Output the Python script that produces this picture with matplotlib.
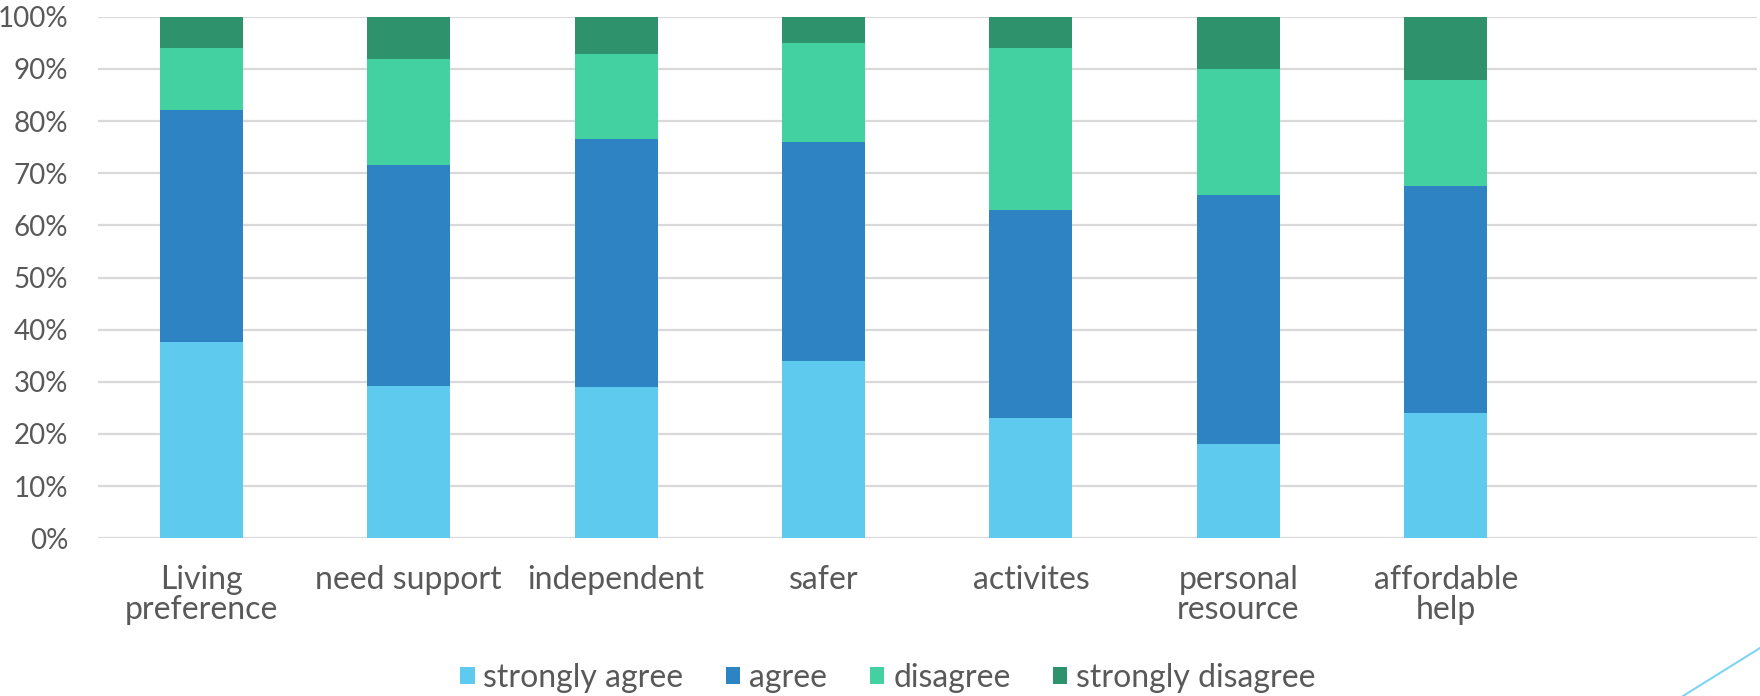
import matplotlib
matplotlib.use("Agg")
import matplotlib.pyplot as plt
from matplotlib.lines import Line2D
from matplotlib.ticker import FuncFormatter
import numpy as np

categories = ["Living\npreference", "need support", "independent", "safer",
              "activites", "personal\nresource", "affordable\nhelp", ""]
strongly_agree = [37.7, 29.2, 29.1, 33.9, 23.0, 18.0, 24.1, 0]
agree = [44.4, 42.4, 47.5, 42.0, 39.9, 47.8, 43.5, 0]
disagree = [11.9, 20.3, 16.3, 19.1, 31.1, 24.2, 20.2, 0]
strongly_disagree = [6.0, 8.1, 7.1, 5.0, 6.0, 10.0, 12.2, 0]

series_names = ["strongly agree", "agree", "disagree", "strongly disagree"]
series_colors = ["#5ECBEE", "#2E83C3", "#43D1A1", "#2E936C"]
text_color = "#595959"
font = ["Lato", "DejaVu Sans"]

plt.rcParams["font.family"] = font

fig = plt.figure(figsize=(17.6, 6.96), dpi=100)
ax = fig.add_axes([97.5 / 1760, 1 - 538.3 / 696, (1757 - 97.5) / 1760, (538.3 - 16.7) / 696])

x = np.arange(len(categories))
bottom = np.zeros(len(categories))
handles = []
for name, vals, col in zip(series_names,
                           [strongly_agree, agree, disagree, strongly_disagree],
                           series_colors):
    vals = np.array(vals, dtype=float)
    b = ax.bar(x, vals, width=0.4, bottom=bottom, color=col, label=name,
               zorder=3, linewidth=0)
    handles.append(b)
    bottom += vals

ax.set_xlim(-0.5, len(categories) - 0.5)
ax.set_ylim(0, 100)
ax.set_yticks(np.arange(0, 101, 10))
ax.yaxis.set_major_formatter(FuncFormatter(lambda v, p: f"{v:.0f}%"))
ax.grid(axis="y", color="#D9D9D9", linewidth=1.6, zorder=0)
ax.set_axisbelow(True)
for s in ax.spines.values():
    s.set_visible(False)
ax.tick_params(axis="both", length=0)
ax.tick_params(axis="y", labelsize=20, labelcolor=text_color, pad=21)
ax.set_xticks(x)
ax.set_xticklabels(categories, fontsize=23, color=text_color, linespacing=1.0)
ax.tick_params(axis="x", pad=19)

fig.legend(handles=handles, labels=series_names, loc="center",
           bbox_to_anchor=(888 / 1760, 1 - 678 / 696), ncol=4, frameon=False,
           fontsize=23, labelcolor=text_color, handlelength=0.45,
           handleheight=0.45, handletextpad=0.28, columnspacing=1.33)

# decorative accent line in the lower right corner
fig.add_artist(Line2D([1683 / 1760, 1.0], [0.0, 1 - 648 / 696],
                      transform=fig.transFigure, color="#7FD4F2", linewidth=1.5))

fig.savefig("out.png", dpi=100, facecolor="white")
